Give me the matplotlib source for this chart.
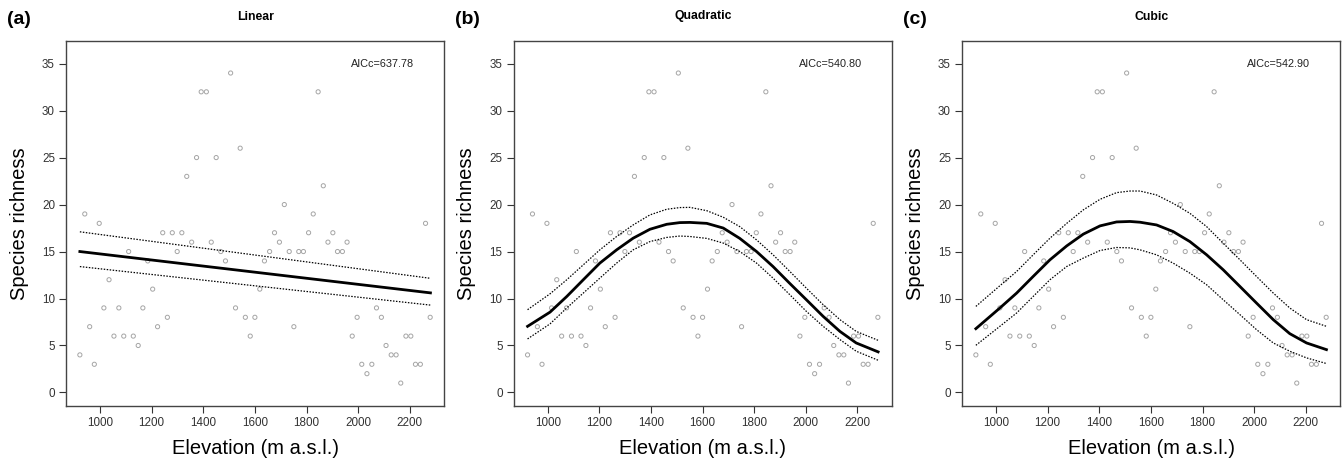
import matplotlib
matplotlib.use("Agg")
import matplotlib.pyplot as plt

plt.rcParams['font.family'] = ['Liberation Sans', 'DejaVu Sans']

# Data: elevation (m a.s.l.) and species richness
elevation = [922, 941, 960, 978, 997, 1015, 1035, 1054, 1073, 1092, 1111, 1129, 1148, 1166,
             1185, 1204, 1223, 1243, 1261, 1280, 1299, 1317, 1336, 1355, 1374, 1392, 1412,
             1431, 1450, 1468, 1486, 1506, 1525, 1543, 1563, 1582, 1600, 1619, 1637, 1657,
             1676, 1695, 1714, 1733, 1751, 1770, 1788, 1808, 1826, 1845, 1865, 1883, 1902,
             1920, 1939, 1957, 1977, 1996, 2014, 2034, 2053, 2071, 2090, 2108, 2128, 2147,
             2165, 2185, 2204, 2222, 2241, 2261, 2279]
richness = [4, 19, 7, 3, 18, 9, 12, 6, 9, 6, 15, 6, 5, 9,
            14, 11, 7, 17, 8, 17, 15, 17, 23, 16, 25, 32, 32,
            16, 25, 15, 14, 34, 9, 26, 8, 6, 8, 11, 14, 15,
            17, 16, 20, 15, 7, 15, 15, 17, 19, 32, 22, 16, 17,
            15, 15, 16, 6, 8, 3, 2, 3, 9, 8, 5, 4, 4,
            1, 6, 6, 3, 3, 18, 8]

# Fitted curves
lin_x = [922, 2280]
lin_fit = [15.0, 10.6]
lin_up = [17.1, 12.15]
lin_lo = [13.4, 9.3]

quad_x = [922, 1009, 1074, 1138, 1202, 1267, 1331, 1396, 1461, 1512, 1551,
          1616, 1680, 1744, 1809, 1873, 1938, 2002, 2067, 2132, 2195, 2280]
quad_fit = [7.04, 8.55, 10.22, 12.0, 13.77, 15.18, 16.42, 17.37, 17.9, 18.08, 18.1,
            18.0, 17.5, 16.4, 15.0, 13.4, 11.6, 9.87, 8.1, 6.5, 5.27, 4.32]
quad_up = [8.81, 10.5, 12.0, 13.59, 15.18, 16.6, 17.83, 18.9, 19.5, 19.68, 19.7,
           19.35, 18.65, 17.65, 16.24, 14.65, 12.88, 11.1, 9.34, 7.75, 6.5, 5.55]
quad_lo = [5.7, 7.3, 9.0, 10.58, 12.17, 13.77, 15.18, 16.06, 16.5, 16.65, 16.6,
           16.4, 15.9, 15.0, 13.77, 12.17, 10.4, 8.63, 7.04, 5.63, 4.39, 3.43]

cub_x = [922, 1015, 1080, 1144, 1209, 1274, 1338, 1403, 1467, 1519, 1558,
         1622, 1686, 1751, 1816, 1880, 1945, 2009, 2074, 2138, 2203, 2280]
cub_fit = [6.79, 8.99, 10.58, 12.35, 14.12, 15.6, 16.85, 17.73, 18.15, 18.2, 18.12,
           17.83, 17.13, 16.06, 14.65, 13.06, 11.28, 9.52, 7.75, 6.26, 5.27, 4.56]
cub_up = [9.16, 11.36, 12.88, 14.65, 16.42, 18.0, 19.43, 20.56, 21.27, 21.44, 21.44,
          21.02, 20.13, 19.07, 17.65, 15.89, 14.12, 12.35, 10.58, 8.99, 7.75, 7.04]
cub_lo = [5.02, 7.04, 8.46, 10.22, 12.0, 13.41, 14.3, 15.11, 15.43, 15.39, 15.18,
          14.65, 13.77, 12.7, 11.46, 9.87, 8.28, 6.69, 5.27, 4.39, 3.68, 3.08]

panels = [
    ("(a)", "Linear", "AICc=637.78", lin_x, lin_fit, lin_up, lin_lo),
    ("(b)", "Quadratic", "AICc=540.80", quad_x, quad_fit, quad_up, quad_lo),
    ("(c)", "Cubic", "AICc=542.90", cub_x, cub_fit, cub_up, cub_lo),
]

W, H = 1342, 462
fig = plt.figure(figsize=(W / 100, H / 100), dpi=100)

lefts = [66, 513.7, 962]
ax_w, ax_top, ax_bot = 378.3, 40.7, 406

for left, (tag, title, aicc, cx, cfit, cup, clo) in zip(lefts, panels):
    ax = fig.add_axes([left / W, (H - ax_bot) / H, ax_w / W, (ax_bot - ax_top) / H])

    ax.scatter(elevation, richness, s=9, facecolors='none', edgecolors='#a5a5a5',
               linewidths=0.7, zorder=2)
    ax.plot(cx, cfit, color='black', lw=2.0, zorder=3, solid_joinstyle='round')
    ax.plot(cx, cup, color='black', lw=0.9, ls=(0, (1.2, 1.2)), zorder=3)
    ax.plot(cx, clo, color='black', lw=0.9, ls=(0, (1.2, 1.2)), zorder=3)

    ax.set_xlim(868.3, 2333.7)
    ax.set_ylim(-1.44, 37.44)
    ax.set_xticks(range(1000, 2201, 200))
    ax.set_yticks(range(0, 36, 5))
    ax.tick_params(direction='out', length=5, width=0.8, colors='#333333',
                   labelsize=8.4, pad=3)
    for sp in ax.spines.values():
        sp.set_color('#444444')
        sp.set_linewidth(1.0)

    ax.set_xlabel("Elevation (m a.s.l.)", fontsize=14.5, va='center')
    ax.xaxis.set_label_coords(0.5, -0.115)
    ax.set_ylabel("Species richness", fontsize=14.5, va='center')
    ax.yaxis.set_label_coords(-0.124, 0.5)

    ax.text(2094, 35, aicc, fontsize=7.8, ha='center', va='center', color='#222222')

    fig.text((left + ax_w / 2) / W, 1 - 16.5 / H, title, fontsize=8.8,
             fontweight='bold', ha='center', va='center')
    fig.text((left - 59) / W, 1 - 19 / H, tag, fontsize=14, fontweight='bold',
             ha='left', va='center')

fig.savefig("out.png", dpi=100)
